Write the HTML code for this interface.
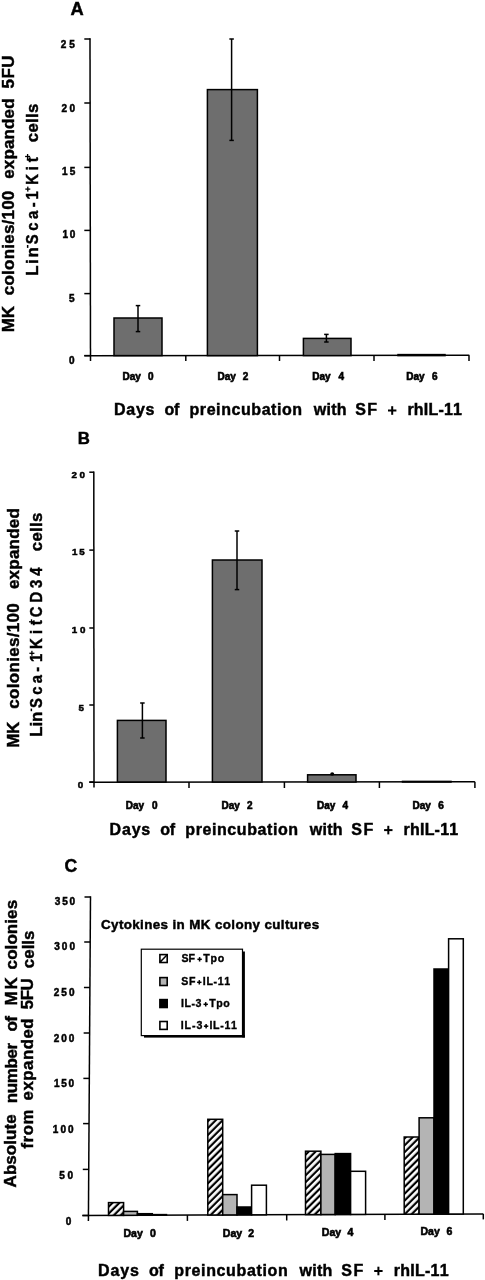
<!DOCTYPE html>
<html><head><meta charset="utf-8"><style>
html,body{margin:0;padding:0;background:#fff;}
svg{display:block;}
text{font-family:"Liberation Sans", sans-serif;font-weight:bold;fill:#000;font-kerning:none;stroke:#000;stroke-width:0.45px;}
svg{filter:grayscale(1);}
</style></head><body>
<svg width="485" height="1280" viewBox="0 0 485 1280">
<rect width="485" height="1280" fill="#fff"/>
<text x="70.54" y="14.70" style="font-size:18.30px;letter-spacing:0.000px;word-spacing:0.000px">A</text>
<line x1="90.0" y1="38.3" x2="90.5" y2="361.0" stroke="#000" stroke-width="1.5"/>
<line x1="84.3" y1="39" x2="90.3" y2="39" stroke="#000" stroke-width="1.5"/>
<line x1="84.3" y1="103" x2="90.3" y2="103" stroke="#000" stroke-width="1.5"/>
<line x1="84.3" y1="167.4" x2="90.3" y2="167.4" stroke="#000" stroke-width="1.5"/>
<line x1="84.3" y1="230.4" x2="90.3" y2="230.4" stroke="#000" stroke-width="1.5"/>
<line x1="84.3" y1="293.6" x2="90.3" y2="293.6" stroke="#000" stroke-width="1.5"/>
<line x1="84.3" y1="355.6" x2="90.3" y2="355.6" stroke="#000" stroke-width="1.5"/>
<line x1="84.3" y1="355.8" x2="469.3" y2="355.3" stroke="#000" stroke-width="1.5"/>
<line x1="185.8" y1="355.6" x2="185.8" y2="361.0" stroke="#000" stroke-width="1.5"/>
<line x1="279.5" y1="355.6" x2="279.5" y2="361.0" stroke="#000" stroke-width="1.5"/>
<line x1="374.0" y1="355.6" x2="374.0" y2="361.0" stroke="#000" stroke-width="1.5"/>
<line x1="469.0" y1="355.3" x2="469.0" y2="361.0" stroke="#000" stroke-width="1.5"/>
<rect x="114" y="318" width="48" height="37.60000000000002" fill="#6e6e6e" stroke="#000" stroke-width="1.5"/>
<rect x="207.4" y="89.6" width="49.99999999999997" height="266.0" fill="#6e6e6e" stroke="#000" stroke-width="1.5"/>
<rect x="303.4" y="338.4" width="47.60000000000002" height="17.200000000000045" fill="#6e6e6e" stroke="#000" stroke-width="1.5"/>
<rect x="398" y="354.6" width="47" height="1.0" fill="#6e6e6e" stroke="#000" stroke-width="1.5"/>
<line x1="138" y1="305.6" x2="138" y2="331.6" stroke="#000" stroke-width="1.5"/>
<line x1="135.75" y1="305.6" x2="140.25" y2="305.6" stroke="#000" stroke-width="1.5"/>
<line x1="135.75" y1="331.6" x2="140.25" y2="331.6" stroke="#000" stroke-width="1.5"/>
<line x1="231.6" y1="39" x2="231.6" y2="140.4" stroke="#000" stroke-width="1.5"/>
<line x1="229.35" y1="39" x2="233.85" y2="39" stroke="#000" stroke-width="1.5"/>
<line x1="229.35" y1="140.4" x2="233.85" y2="140.4" stroke="#000" stroke-width="1.5"/>
<line x1="326.4" y1="334.4" x2="326.4" y2="342" stroke="#000" stroke-width="1.5"/>
<line x1="324.15" y1="334.4" x2="328.65" y2="334.4" stroke="#000" stroke-width="1.5"/>
<line x1="324.15" y1="342" x2="328.65" y2="342" stroke="#000" stroke-width="1.5"/>
<text x="60.70" y="47.63" style="font-size:10.00px;letter-spacing:3.002px;word-spacing:0.000px;stroke-width:0.5px">25</text>
<text x="61.50" y="111.93" style="font-size:10.00px;letter-spacing:2.334px;word-spacing:0.000px;stroke-width:0.5px">20</text>
<text x="62.02" y="175.33" style="font-size:10.00px;letter-spacing:2.085px;word-spacing:0.000px;stroke-width:0.5px">15</text>
<text x="62.42" y="238.13" style="font-size:10.00px;letter-spacing:1.817px;word-spacing:0.000px;stroke-width:0.5px">10</text>
<text x="68.90" y="301.73" style="font-size:10.00px;letter-spacing:0.000px;word-spacing:0.000px;stroke-width:0.5px">5</text>
<text x="68.93" y="364.23" style="font-size:10.00px;letter-spacing:0.000px;word-spacing:0.000px;stroke-width:0.5px">0</text>
<text x="122.43" y="379.80" style="font-size:10.00px;letter-spacing:0.000px;word-spacing:4.395px;stroke-width:0.6px">Day 0</text>
<text x="217.53" y="379.80" style="font-size:10.00px;letter-spacing:0.000px;word-spacing:4.085px;stroke-width:0.6px">Day 2</text>
<text x="312.23" y="379.80" style="font-size:10.00px;letter-spacing:0.000px;word-spacing:5.038px;stroke-width:0.6px">Day 4</text>
<text x="406.23" y="379.80" style="font-size:10.00px;letter-spacing:0.000px;word-spacing:4.546px;stroke-width:0.6px">Day 6</text>
<text x="113.88" y="415.00" style="font-size:16.00px;letter-spacing:0.792px;word-spacing:0.000px">Days</text>
<text x="164.53" y="415.00" style="font-size:16.00px;letter-spacing:-0.408px;word-spacing:0.000px">of</text>
<text x="189.50" y="415.00" style="font-size:16.00px;letter-spacing:0.572px;word-spacing:0.000px">preincubation</text>
<text x="313.80" y="415.00" style="font-size:16.00px;letter-spacing:0.251px;word-spacing:0.000px">with</text>
<text x="355.29" y="415.00" style="font-size:16.00px;letter-spacing:1.402px;word-spacing:0.000px">SF</text>
<rect x="388.0" y="409.5" width="8.4" height="2.0" fill="#000"/>
<rect x="391.2" y="406.2" width="2.0" height="8.6" fill="#000"/>
<text x="407.40" y="415.00" style="font-size:16.00px;letter-spacing:0.209px;word-spacing:0.000px">rhIL-11</text>
<text transform="translate(14.20,331.20) rotate(-90)" x="-1.14" y="0" style="font-size:17.00px;letter-spacing:0.000px;word-spacing:0.000px">MK</text>
<text transform="translate(14.20,294.50) rotate(-90)" x="-0.66" y="0" style="font-size:17.00px;letter-spacing:0.219px;word-spacing:0.000px">colonies/100</text>
<text transform="translate(14.20,178.10) rotate(-90)" x="-0.66" y="0" style="font-size:17.00px;letter-spacing:0.133px;word-spacing:0.000px">expanded</text>
<text transform="translate(14.20,88.00) rotate(-90)" x="-0.52" y="0" style="font-size:17.00px;letter-spacing:0.472px;word-spacing:0.000px">5FU</text>
<text transform="translate(38.10,274.70) rotate(-90)" x="-1.12" y="0" style="font-size:16.80px;letter-spacing:1.637px;word-spacing:0.000px">Lin</text>
<text transform="translate(38.10,243.75) rotate(-90) scale(0.880,1)" x="-0.48" y="0" style="font-size:16.80px;letter-spacing:4.068px;word-spacing:0.000px">Sca-</text>
<text transform="translate(38.10,198.60) rotate(-90) scale(0.880,1)" x="-1.06" y="0" style="font-size:16.80px;letter-spacing:0.000px;word-spacing:0.000px">1</text>
<text transform="translate(38.10,183.75) rotate(-90) scale(0.880,1)" x="-1.12" y="0" style="font-size:16.80px;letter-spacing:4.382px;word-spacing:0.000px">Kit</text>
<text transform="translate(38.10,141.60) rotate(-90)" x="-0.66" y="0" style="font-size:16.80px;letter-spacing:0.345px;word-spacing:0.000px">cells</text>
<rect x="26.9" y="245.0" width="1.5" height="2.9" fill="#000"/>
<rect x="25.3" y="188.45" width="5.0" height="1.3" fill="#000"/>
<rect x="27.150000000000002" y="186.6" width="1.3" height="5.0" fill="#000"/>
<rect x="25.1" y="155.85" width="5.0" height="1.3" fill="#000"/>
<rect x="26.950000000000003" y="154.0" width="1.3" height="5.0" fill="#000"/>
<!-- panel B -->
<text x="77.78" y="443.70" style="font-size:16.80px;letter-spacing:0.000px;word-spacing:0.000px">B</text>
<line x1="93.8" y1="471.5" x2="94.0" y2="787.5" stroke="#000" stroke-width="1.5"/>
<line x1="89.3" y1="472.2" x2="93.9" y2="472.2" stroke="#000" stroke-width="1.5"/>
<line x1="89.3" y1="550.1" x2="93.9" y2="550.1" stroke="#000" stroke-width="1.5"/>
<line x1="89.3" y1="628" x2="93.9" y2="628" stroke="#000" stroke-width="1.5"/>
<line x1="89.3" y1="705" x2="93.9" y2="705" stroke="#000" stroke-width="1.5"/>
<line x1="89.3" y1="782" x2="93.9" y2="782" stroke="#000" stroke-width="1.5"/>
<line x1="89.3" y1="782.2" x2="474.9" y2="781.8" stroke="#000" stroke-width="1.5"/>
<line x1="189.0" y1="782" x2="189.0" y2="788" stroke="#000" stroke-width="1.5"/>
<line x1="284.4" y1="782" x2="284.4" y2="788" stroke="#000" stroke-width="1.5"/>
<line x1="379.4" y1="782" x2="379.4" y2="788" stroke="#000" stroke-width="1.5"/>
<line x1="474.9" y1="781.8" x2="474.9" y2="788" stroke="#000" stroke-width="1.5"/>
<rect x="117.4" y="720.4" width="48.599999999999994" height="61.60000000000002" fill="#6e6e6e" stroke="#000" stroke-width="1.5"/>
<rect x="212.4" y="560" width="49.599999999999994" height="222" fill="#6e6e6e" stroke="#000" stroke-width="1.5"/>
<rect x="307.6" y="774.8" width="48.39999999999998" height="7.2000000000000455" fill="#6e6e6e" stroke="#000" stroke-width="1.5"/>
<rect x="402.5" y="781.4" width="48.5" height="0.6000000000000227" fill="#6e6e6e" stroke="#000" stroke-width="1.5"/>
<line x1="142.4" y1="703" x2="142.4" y2="738" stroke="#000" stroke-width="1.5"/>
<line x1="140.15" y1="703" x2="144.65" y2="703" stroke="#000" stroke-width="1.5"/>
<line x1="140.15" y1="738" x2="144.65" y2="738" stroke="#000" stroke-width="1.5"/>
<line x1="237" y1="531" x2="237" y2="589.6" stroke="#000" stroke-width="1.5"/>
<line x1="234.75" y1="531" x2="239.25" y2="531" stroke="#000" stroke-width="1.5"/>
<line x1="234.75" y1="589.6" x2="239.25" y2="589.6" stroke="#000" stroke-width="1.5"/>
<ellipse cx="332.2" cy="774.0" rx="2.0" ry="1.8" fill="#000"/>
<text x="71.41" y="477.99" style="font-size:9.80px;letter-spacing:2.541px;word-spacing:0.000px;stroke-width:0.5px">20</text>
<text x="72.03" y="555.09" style="font-size:9.80px;letter-spacing:1.789px;word-spacing:0.000px;stroke-width:0.5px">15</text>
<text x="71.63" y="633.49" style="font-size:9.80px;letter-spacing:2.819px;word-spacing:0.000px;stroke-width:0.5px">10</text>
<text x="78.56" y="711.39" style="font-size:9.80px;letter-spacing:0.000px;word-spacing:0.000px;stroke-width:0.5px">5</text>
<text x="77.78" y="788.39" style="font-size:9.80px;letter-spacing:0.000px;word-spacing:0.000px;stroke-width:0.5px">0</text>
<text x="125.83" y="808.60" style="font-size:10.00px;letter-spacing:0.000px;word-spacing:4.995px;stroke-width:0.6px">Day 0</text>
<text x="221.43" y="808.60" style="font-size:10.00px;letter-spacing:0.000px;word-spacing:4.385px;stroke-width:0.6px">Day 2</text>
<text x="317.03" y="808.60" style="font-size:10.00px;letter-spacing:0.000px;word-spacing:4.438px;stroke-width:0.6px">Day 4</text>
<text x="412.43" y="808.60" style="font-size:10.00px;letter-spacing:0.000px;word-spacing:4.746px;stroke-width:0.6px">Day 6</text>
<text x="109.58" y="834.60" style="font-size:16.00px;letter-spacing:0.811px;word-spacing:0.000px">Days</text>
<text x="160.30" y="834.60" style="font-size:16.00px;letter-spacing:-0.387px;word-spacing:0.000px">of</text>
<text x="185.30" y="834.60" style="font-size:16.00px;letter-spacing:0.585px;word-spacing:0.000px">preincubation</text>
<text x="309.78" y="834.60" style="font-size:16.00px;letter-spacing:0.266px;word-spacing:0.000px">with</text>
<text x="351.34" y="834.60" style="font-size:16.00px;letter-spacing:1.432px;word-spacing:0.000px">SF</text>
<rect x="384.0998270394926" y="829.1" width="8.4" height="2.0" fill="#000"/>
<rect x="387.2998270394926" y="825.8000000000001" width="2.0" height="8.6" fill="#000"/>
<text x="403.52" y="834.60" style="font-size:16.00px;letter-spacing:0.222px;word-spacing:0.000px">rhIL-11</text>
<text transform="translate(18.80,746.70) rotate(-90)" x="-1.14" y="0" style="font-size:17.00px;letter-spacing:-0.443px;word-spacing:0.000px">MK</text>
<text transform="translate(18.70,708.00) rotate(-90)" x="-0.66" y="0" style="font-size:17.00px;letter-spacing:0.310px;word-spacing:0.000px">colonies/100</text>
<text transform="translate(18.60,588.40) rotate(-90)" x="-0.66" y="0" style="font-size:17.00px;letter-spacing:0.218px;word-spacing:0.000px">expanded</text>
<text transform="translate(42.00,735.70) rotate(-90)" x="-1.12" y="0" style="font-size:16.80px;letter-spacing:-0.013px;word-spacing:0.000px">Lin</text>
<text transform="translate(42.00,707.70) rotate(-90) scale(0.880,1)" x="-0.48" y="0" style="font-size:16.80px;letter-spacing:3.860px;word-spacing:0.000px">Sca-</text>
<text transform="translate(42.00,661.00) rotate(-90) scale(0.880,1)" x="-1.06" y="0" style="font-size:16.80px;letter-spacing:0.000px;word-spacing:0.000px">1</text>
<text transform="translate(42.00,648.00) rotate(-90) scale(0.880,1)" x="-1.12" y="0" style="font-size:16.80px;letter-spacing:5.035px;word-spacing:0.000px">Kit</text>
<text transform="translate(42.00,616.70) rotate(-90) scale(0.880,1)" x="-0.69" y="0" style="font-size:16.80px;letter-spacing:4.579px;word-spacing:0.000px">CD34</text>
<text transform="translate(42.00,550.50) rotate(-90)" x="-0.66" y="0" style="font-size:16.80px;letter-spacing:0.270px;word-spacing:0.000px">cells</text>
<rect x="30.6" y="708.6" width="1.5" height="2.6" fill="#000"/>
<rect x="29.4" y="652.65" width="5.0" height="1.3" fill="#000"/>
<rect x="31.25" y="650.8" width="1.3" height="5.0" fill="#000"/>
<rect x="29.0" y="621.15" width="5.0" height="1.3" fill="#000"/>
<rect x="30.85" y="619.3" width="1.3" height="5.0" fill="#000"/>
<rect x="30.4" y="567.6" width="1.5" height="2.6" fill="#000"/>
<!-- panel C -->
<text x="64.58" y="872.20" style="font-size:17.60px;letter-spacing:0.000px;word-spacing:0.000px">C</text>
<line x1="90.5" y1="896.3" x2="88.4" y2="1221.0" stroke="#000" stroke-width="1.5"/>
<line x1="84.5" y1="897" x2="90.5" y2="897" stroke="#000" stroke-width="1.5"/>
<line x1="84.21742543171115" y1="942" x2="90.21742543171115" y2="942" stroke="#000" stroke-width="1.5"/>
<line x1="83.93171114599686" y1="987.5" x2="89.93171114599686" y2="987.5" stroke="#000" stroke-width="1.5"/>
<line x1="83.64599686028258" y1="1033" x2="89.64599686028258" y2="1033" stroke="#000" stroke-width="1.5"/>
<line x1="83.36091051805337" y1="1078.4" x2="89.36091051805337" y2="1078.4" stroke="#000" stroke-width="1.5"/>
<line x1="83.07708006279435" y1="1123.6" x2="89.07708006279435" y2="1123.6" stroke="#000" stroke-width="1.5"/>
<line x1="82.7894819466248" y1="1169.4" x2="88.7894819466248" y2="1169.4" stroke="#000" stroke-width="1.5"/>
<line x1="82.5" y1="1215.5" x2="88.5" y2="1215.5" stroke="#000" stroke-width="1.5"/>
<line x1="82.3" y1="1215.6" x2="483.3" y2="1213.9" stroke="#000" stroke-width="1.5"/>
<line x1="187.4" y1="1215.0991894630192" x2="187.4" y2="1220.8991894630192" stroke="#000" stroke-width="1.5"/>
<line x1="286.7" y1="1214.696757852077" x2="286.7" y2="1220.496757852077" stroke="#000" stroke-width="1.5"/>
<line x1="384.9" y1="1214.298784194529" x2="384.9" y2="1220.098784194529" stroke="#000" stroke-width="1.5"/>
<line x1="483.3" y1="1213.9" x2="483.3" y2="1219.4" stroke="#000" stroke-width="1.5"/>
<defs><pattern id="h" patternUnits="userSpaceOnUse" width="4.88" height="4.88" patternTransform="rotate(45)"><rect width="4.88" height="4.88" fill="#fff"/><rect x="1.72" width="2.2" height="4.88" fill="#000"/></pattern></defs>
<rect x="108.5" y="1202.6" width="15.099999999999994" height="12.788348530901885" fill="url(#h)" stroke="#000" stroke-width="1.5"/>
<rect x="123.6" y="1211.4" width="13.800000000000011" height="3.9297872340425783" fill="#b4b4b4" stroke="#000" stroke-width="1.5"/>
<rect x="137.4" y="1213.7" width="14.900000000000006" height="1.5716312056738388" fill="#000" stroke="#000" stroke-width="1.5"/>
<rect x="152.3" y="1214.6" width="14.199999999999989" height="0.612664640324283" fill="#fff" stroke="#000" stroke-width="1.5"/>
<rect x="207.8" y="1119.3" width="14.899999999999977" height="95.68632218844982" fill="url(#h)" stroke="#000" stroke-width="1.5"/>
<rect x="222.7" y="1194.6" width="14.300000000000011" height="20.327152988855232" fill="#b4b4b4" stroke="#000" stroke-width="1.5"/>
<rect x="237.0" y="1207.0" width="14.599999999999994" height="7.868591691996016" fill="#000" stroke="#000" stroke-width="1.5"/>
<rect x="251.6" y="1185.2" width="14.799999999999983" height="29.60901722391077" fill="#fff" stroke="#000" stroke-width="1.5"/>
<rect x="305.5" y="1151.2" width="15.399999999999977" height="63.389361702127644" fill="url(#h)" stroke="#000" stroke-width="1.5"/>
<rect x="320.9" y="1154.4" width="14.300000000000011" height="60.12917933130689" fill="#b4b4b4" stroke="#000" stroke-width="1.5"/>
<rect x="335.2" y="1153.6" width="15.400000000000034" height="60.868996960486584" fill="#000" stroke="#000" stroke-width="1.5"/>
<rect x="350.6" y="1171.3" width="15.0" height="43.10739614994941" fill="#fff" stroke="#000" stroke-width="1.5"/>
<rect x="404.2" y="1137.0" width="14.900000000000034" height="77.19037487335368" fill="url(#h)" stroke="#000" stroke-width="1.5"/>
<rect x="419.1" y="1117.8" width="14.899999999999977" height="96.32998986828784" fill="#b4b4b4" stroke="#000" stroke-width="1.5"/>
<rect x="434.0" y="969.0" width="14.600000000000023" height="245.07021276595742" fill="#000" stroke="#000" stroke-width="1.5"/>
<rect x="448.6" y="938.8" width="14.699999999999989" height="275.21084093211766" fill="#fff" stroke="#000" stroke-width="1.5"/>
<text x="54.82" y="905.13" style="font-size:10.00px;letter-spacing:1.828px;word-spacing:0.000px;stroke-width:0.5px">350</text>
<text x="54.22" y="950.33" style="font-size:10.00px;letter-spacing:2.078px;word-spacing:0.000px;stroke-width:0.5px">300</text>
<text x="53.70" y="996.03" style="font-size:10.00px;letter-spacing:2.086px;word-spacing:0.000px;stroke-width:0.5px">250</text>
<text x="53.70" y="1041.83" style="font-size:10.00px;letter-spacing:1.936px;word-spacing:0.000px;stroke-width:0.5px">200</text>
<text x="53.92" y="1086.73" style="font-size:10.00px;letter-spacing:1.728px;word-spacing:0.000px;stroke-width:0.5px">150</text>
<text x="52.82" y="1133.03" style="font-size:10.00px;letter-spacing:2.028px;word-spacing:0.000px;stroke-width:0.5px">100</text>
<text x="59.34" y="1178.93" style="font-size:10.00px;letter-spacing:2.695px;word-spacing:0.000px;stroke-width:0.5px">50</text>
<text x="65.78" y="1224.83" style="font-size:10.00px;letter-spacing:0.000px;word-spacing:0.000px;stroke-width:0.5px">0</text>
<text x="123.50" y="1237.00" style="font-size:10.50px;letter-spacing:0.000px;word-spacing:4.314px;stroke-width:0.6px">Day 0</text>
<text x="222.80" y="1236.50" style="font-size:10.50px;letter-spacing:0.000px;word-spacing:3.204px;stroke-width:0.6px">Day 2</text>
<text x="321.80" y="1235.80" style="font-size:10.50px;letter-spacing:0.000px;word-spacing:3.540px;stroke-width:0.6px">Day 4</text>
<text x="420.50" y="1235.00" style="font-size:10.50px;letter-spacing:0.000px;word-spacing:3.763px;stroke-width:0.6px">Day 6</text>
<text x="98.08" y="1275.50" style="font-size:16.00px;letter-spacing:0.886px;word-spacing:0.000px">Days</text>
<text x="149.09" y="1275.50" style="font-size:16.00px;letter-spacing:-0.304px;word-spacing:0.000px">of</text>
<text x="174.24" y="1275.50" style="font-size:16.00px;letter-spacing:0.639px;word-spacing:0.000px">preincubation</text>
<text x="299.43" y="1275.50" style="font-size:16.00px;letter-spacing:0.328px;word-spacing:0.000px">with</text>
<text x="341.22" y="1275.50" style="font-size:16.00px;letter-spacing:1.554px;word-spacing:0.000px">SF</text>
<rect x="374.19913519746325" y="1270.0" width="8.4" height="2.0" fill="#000"/>
<rect x="377.39913519746324" y="1266.7" width="2.0" height="8.6" fill="#000"/>
<text x="393.71" y="1275.50" style="font-size:16.00px;letter-spacing:0.274px;word-spacing:0.000px">rhIL-11</text>
<text x="101.05" y="929.40" style="font-size:13.40px;letter-spacing:0.374px;word-spacing:0.000px">Cytokines in MK colony cultures</text>
<rect x="141.3" y="949.2" width="101.2" height="86.4" fill="#fff" stroke="#000" stroke-width="1.2"/>
<rect x="242.3" y="951.5" width="2.6" height="86.0" fill="#000"/>
<rect x="144.0" y="1035.0" width="100.9" height="2.6" fill="#000"/>
<rect x="159.9" y="954.6" width="7.3" height="7.9" fill="#fff" stroke="#000" stroke-width="1.6"/>
<rect x="159.9" y="977.6" width="7.3" height="7.9" fill="#b4b4b4" stroke="#000" stroke-width="1.6"/>
<rect x="159.9" y="999.6" width="7.3" height="7.9" fill="#000" stroke="#000" stroke-width="1.6"/>
<rect x="159.9" y="1021.5000000000001" width="7.3" height="7.9" fill="#fff" stroke="#000" stroke-width="1.6"/>
<line x1="160.2" y1="962.1" x2="166.9" y2="955.0" stroke="#000" stroke-width="1.5"/>
<polygon points="159.9,962.40 159.9,960.10 162.3,962.40" fill="#000"/>
<text x="181.44" y="962.10" style="font-size:10.60px;letter-spacing:0.049px;word-spacing:0.000px;stroke-width:0.35px">SF</text>
<rect x="197.4" y="958.55" width="4.4" height="1.5" fill="#000"/>
<rect x="198.85" y="957.0999999999999" width="1.5" height="4.4" fill="#000"/>
<text x="203.33" y="962.10" style="font-size:10.60px;letter-spacing:0.704px;word-spacing:0.000px;stroke-width:0.35px">Tpo</text>
<text x="181.34" y="985.10" style="font-size:10.60px;letter-spacing:0.649px;word-spacing:0.000px;stroke-width:0.35px">SF</text>
<rect x="197.10000000000002" y="981.55" width="4.4" height="1.5" fill="#000"/>
<rect x="198.55" y="980.0999999999999" width="1.5" height="4.4" fill="#000"/>
<text x="202.84" y="985.10" style="font-size:10.60px;letter-spacing:0.641px;word-spacing:0.000px;stroke-width:0.35px">IL-11</text>
<text x="180.94" y="1007.10" style="font-size:10.60px;letter-spacing:0.516px;word-spacing:0.000px;stroke-width:0.35px">IL-3</text>
<rect x="203.5" y="1003.55" width="4.4" height="1.5" fill="#000"/>
<rect x="204.95" y="1002.0999999999999" width="1.5" height="4.4" fill="#000"/>
<text x="209.23" y="1007.10" style="font-size:10.60px;letter-spacing:0.504px;word-spacing:0.000px;stroke-width:0.35px">Tpo</text>
<text x="180.64" y="1029.00" style="font-size:10.60px;letter-spacing:1.016px;word-spacing:0.000px;stroke-width:0.35px">IL-3</text>
<rect x="203.9" y="1025.45" width="4.4" height="1.5" fill="#000"/>
<rect x="205.35" y="1024.0" width="1.5" height="4.4" fill="#000"/>
<text x="209.44" y="1029.00" style="font-size:10.60px;letter-spacing:0.691px;word-spacing:0.000px;stroke-width:0.35px">IL-11</text>
<text transform="translate(16.20,1187.00) rotate(-90)" x="-0.42" y="0" style="font-size:17.00px;letter-spacing:0.040px;word-spacing:0.000px">Absolute</text>
<text transform="translate(16.60,1102.20) rotate(-90)" x="-1.12" y="0" style="font-size:17.00px;letter-spacing:-0.392px;word-spacing:0.000px">number</text>
<text transform="translate(16.90,1030.90) rotate(-90)" x="-0.66" y="0" style="font-size:17.00px;letter-spacing:-0.615px;word-spacing:0.000px">of</text>
<text transform="translate(17.20,1004.40) rotate(-90)" x="-1.14" y="0" style="font-size:17.00px;letter-spacing:1.757px;word-spacing:0.000px">MK</text>
<text transform="translate(17.40,968.75) rotate(-90)" x="-0.66" y="0" style="font-size:17.00px;letter-spacing:0.078px;word-spacing:0.000px">colonies</text>
<text transform="translate(32.60,1148.20) rotate(-90)" x="-0.29" y="0" style="font-size:16.80px;letter-spacing:0.499px;word-spacing:0.000px">from</text>
<text transform="translate(33.00,1099.80) rotate(-90)" x="-0.66" y="0" style="font-size:16.80px;letter-spacing:0.535px;word-spacing:0.000px">expanded</text>
<text transform="translate(33.30,1008.75) rotate(-90)" x="-0.52" y="0" style="font-size:16.80px;letter-spacing:-0.423px;word-spacing:0.000px">5FU</text>
<text transform="translate(33.60,967.50) rotate(-90)" x="-0.66" y="0" style="font-size:16.80px;letter-spacing:0.058px;word-spacing:0.000px">cells</text>
</svg>
</body></html>
